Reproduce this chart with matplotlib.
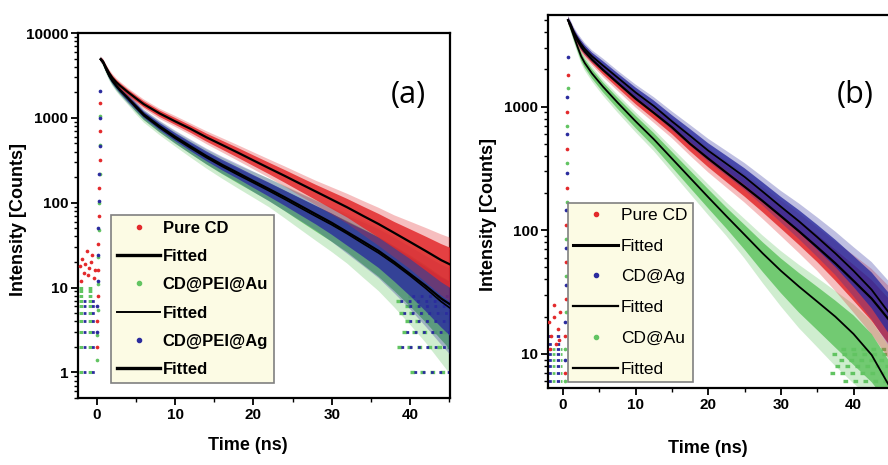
import numpy as np
import matplotlib
matplotlib.use('Agg')
import matplotlib.pyplot as plt
from matplotlib.lines import Line2D
from matplotlib.ticker import FixedLocator, LogLocator, MultipleLocator, NullFormatter

plt.rcParams['font.family'] = ['Liberation Sans', 'DejaVu Sans']

RED = '#e32a2c'
GREEN = '#62c462'
BLUE = '#2b2c9e'

# ---- panel (a): decay values ----
t_a = [0.5, 0.8, 1.2, 1.6, 2, 2.5, 3, 4, 5, 6, 8, 10, 12, 14, 16, 18, 20, 22, 24, 26,
       28, 30, 32, 34, 36, 38, 40, 42, 44, 45.5]
pure_a = [4900, 4600, 3900, 3350, 2950, 2620, 2380, 2000, 1700, 1450, 1130, 910, 740, 590, 480,
          390, 315, 255, 207, 167, 135, 109, 88, 70, 56, 44, 34.5, 27, 21, 18]
au_a = [4900, 4500, 3700, 3100, 2700, 2350, 2080, 1680, 1320, 1060, 770, 575, 440, 340, 268,
        214, 172, 138, 110, 87, 69, 55, 43, 33, 25.5, 19, 13.8, 9.8, 6.8, 5.4]
ag_a = [4900, 4550, 3750, 3150, 2750, 2400, 2120, 1700, 1370, 1100, 800, 600, 460, 355, 280,
        225, 180, 145, 116, 92, 73, 58, 45, 35, 27, 20, 14.5, 10.5, 7.4, 6.0]
# scatter of the counts around each curve (decades above / below)
pure_a_up = [0.02, 0.022, 0.025, 0.027, 0.03, 0.03, 0.03, 0.03, 0.033, 0.035, 0.035, 0.04, 0.04,
             0.045, 0.05, 0.055, 0.06, 0.065, 0.07, 0.075, 0.08, 0.09, 0.1, 0.11, 0.12, 0.13,
             0.15, 0.17, 0.19, 0.2]
pure_a_dn = [0.02, 0.022, 0.025, 0.027, 0.03, 0.03, 0.03, 0.035, 0.035, 0.035, 0.04, 0.04, 0.045,
             0.05, 0.055, 0.06, 0.065, 0.07, 0.08, 0.09, 0.1, 0.11, 0.12, 0.14, 0.16, 0.18,
             0.2, 0.23, 0.26, 0.28]
au_a_up = [0.02, 0.022, 0.025, 0.028, 0.03, 0.032, 0.035, 0.04, 0.04, 0.04, 0.045, 0.05, 0.055,
           0.06, 0.065, 0.07, 0.08, 0.09, 0.1, 0.11, 0.12, 0.13, 0.15, 0.17, 0.19, 0.21, 0.24,
           0.27, 0.3, 0.32]
au_a_dn = [0.02, 0.025, 0.03, 0.032, 0.035, 0.038, 0.04, 0.045, 0.048, 0.05, 0.055, 0.06, 0.07,
           0.08, 0.09, 0.1, 0.11, 0.12, 0.14, 0.16, 0.18, 0.2, 0.22, 0.25, 0.28, 0.32, 0.36,
           0.4, 0.45, 0.5]
ag_a_up = [0.02, 0.022, 0.025, 0.027, 0.03, 0.03, 0.03, 0.035, 0.035, 0.035, 0.04, 0.045, 0.05,
           0.055, 0.06, 0.065, 0.07, 0.075, 0.08, 0.09, 0.1, 0.11, 0.12, 0.14, 0.16, 0.18, 0.2,
           0.22, 0.25, 0.27]
ag_a_dn = [0.02, 0.022, 0.025, 0.03, 0.032, 0.035, 0.035, 0.04, 0.04, 0.04, 0.045, 0.05, 0.055,
           0.06, 0.065, 0.07, 0.08, 0.09, 0.1, 0.11, 0.12, 0.14, 0.16, 0.18, 0.2, 0.23, 0.26,
           0.3, 0.34, 0.38]
# rising edge and low-count rows
rise_t_a = [0.0, 0.05, 0.1, 0.15, 0.2, 0.25, 0.3, 0.35, 0.4, 0.45]
rise_pure_a = [2, 4, 8, 16, 33, 70, 150, 320, 700, 1500]
rise_au_a = [1.4, 2.8, 5.5, 11, 23, 48, 100, 220, 480, 1050]
rise_ag_a = [3, 6, 12, 24, 50, 105, 220, 470, 1000, 2100]
pre_rows_a = [1, 2, 3, 4, 5, 6, 7, 8, 9, 10]
pre_pure_t_a = [-2.2, -1.9, -1.6, -1.3, -1.0, -0.7, -0.4, -2.0, -1.5, -1.1, -0.6, -0.2]
pre_pure_v_a = [18, 22, 15, 27, 17, 20, 13, 12, 19, 14, 24, 16]
tail_rows_a = [1, 2, 3, 4, 5, 6, 7, 8]
tail_start_a = [40, 38.3, 39, 39.3, 38.6, 39.3, 38.2, 39.8]

# ---- panel (b) ----
t_b = [0.7, 1, 1.5, 2, 2.5, 3, 4, 5.5, 7.5, 10, 12.5, 15, 17.5, 20, 22.5, 25, 27.5, 30, 32.5,
       35, 37.5, 40, 42.5, 45, 46.5]
pure_b = [5000, 4600, 3900, 3420, 3050, 2780, 2400, 1980, 1560, 1160, 890, 680, 500, 380, 292,
          225, 172, 130, 98, 73, 54, 39, 28, 18.5, 14]
ag_b = [5000, 4700, 4000, 3550, 3200, 2930, 2550, 2150, 1720, 1300, 1010, 760, 580, 440, 345,
        270, 205, 155, 118, 88, 65, 47, 33, 21, 15]
au_b = [5000, 4500, 3700, 3050, 2550, 2250, 1850, 1450, 1080, 760, 545, 380, 265, 185, 130, 92,
        65, 47, 35, 26.5, 20, 14.5, 9.8, 5.4, 3.5]
pure_b_up = [0.02, 0.02, 0.025, 0.027, 0.03, 0.03, 0.03, 0.03, 0.035, 0.04, 0.04, 0.045, 0.05,
             0.055, 0.06, 0.065, 0.07, 0.08, 0.09, 0.1, 0.11, 0.13, 0.15, 0.17, 0.18]
pure_b_dn = [0.02, 0.02, 0.025, 0.027, 0.03, 0.03, 0.03, 0.035, 0.04, 0.045, 0.05, 0.055, 0.06,
             0.07, 0.075, 0.08, 0.09, 0.1, 0.11, 0.12, 0.14, 0.16, 0.18, 0.2, 0.22]
ag_b_up = [0.02, 0.02, 0.025, 0.027, 0.03, 0.03, 0.03, 0.035, 0.035, 0.04, 0.045, 0.05, 0.055,
           0.06, 0.065, 0.07, 0.075, 0.08, 0.09, 0.1, 0.11, 0.12, 0.14, 0.16, 0.17]
ag_b_dn = [0.02, 0.02, 0.025, 0.027, 0.03, 0.03, 0.03, 0.03, 0.035, 0.04, 0.04, 0.045, 0.05,
           0.055, 0.06, 0.065, 0.07, 0.08, 0.09, 0.1, 0.11, 0.13, 0.15, 0.17, 0.19]
au_b_up = [0.02, 0.02, 0.025, 0.027, 0.03, 0.032, 0.035, 0.035, 0.04, 0.045, 0.05, 0.055, 0.06,
           0.065, 0.07, 0.08, 0.09, 0.1, 0.11, 0.12, 0.13, 0.15, 0.17, 0.2, 0.22]
au_b_dn = [0.02, 0.025, 0.03, 0.032, 0.035, 0.038, 0.04, 0.045, 0.05, 0.055, 0.06, 0.07, 0.08,
           0.09, 0.1, 0.12, 0.15, 0.18, 0.21, 0.23, 0.25, 0.25, 0.22, 0.15, 0.1]
rise_t_b = [0.25, 0.3, 0.35, 0.4, 0.45, 0.5, 0.55, 0.6, 0.65]
rise_pure_b = [7, 14, 28, 55, 110, 220, 450, 900, 1800]
rise_ag_b = [9, 18, 36, 72, 145, 290, 600, 1200, 2500]
rise_au_b = [6, 11, 22, 43, 85, 170, 350, 700, 1400]
pre_rows_b = [6, 7, 8, 9, 10, 11, 12, 14]
pre_pure_t_b = [-1.9, -1.6, -1.3, -1.0, -0.7, -0.4, -1.8, -1.2, -0.6]
pre_pure_v_b = [18, 14, 20, 12, 16, 22, 11, 25, 13]
tail_rows_b = [6, 7, 8, 9, 10, 11]
tail_start_b = [38.5, 36.8, 37.5, 38, 37, 38.3]


def band(ax, t, fit, up, dn, color, z, alpha=0.85):
    fit = np.array(fit)
    up = np.array(up)
    dn = np.array(dn)
    # soft outer fringe of sparse points, then the dense core
    ax.fill_between(t, fit / 10 ** (1.6 * dn), fit * 10 ** (1.6 * up),
                    facecolor=color, lw=0, alpha=0.3, zorder=z)
    ax.fill_between(t, fit / 10 ** dn, fit * 10 ** up,
                    facecolor=color, lw=0, alpha=alpha, zorder=z)


def style(ax, xlim, ylim, yticks):
    ax.set_yscale('log')
    ax.set_xlim(*xlim)
    ax.set_ylim(*ylim)
    ax.yaxis.set_major_locator(FixedLocator(yticks))
    ax.set_yticklabels([str(v) for v in yticks])
    ax.yaxis.set_minor_locator(LogLocator(subs=np.arange(2, 10)))
    ax.yaxis.set_minor_formatter(NullFormatter())
    ax.xaxis.set_major_locator(MultipleLocator(10))
    ax.xaxis.set_minor_locator(MultipleLocator(5))
    ax.tick_params(which='major', direction='out', length=5, width=1.3, pad=2,
                   labelsize=11)
    ax.tick_params(which='minor', direction='out', length=3, width=1.0)
    for lab in ax.get_xticklabels() + ax.get_yticklabels():
        lab.set_fontweight('bold')
    for s in ax.spines.values():
        s.set_linewidth(1.6)


def dot(color):
    return Line2D([], [], ls='none', marker='o', ms=3, color=color)


fig = plt.figure(figsize=(8.88, 4.65), dpi=100)
ax_a = fig.add_axes([78 / 888, 67 / 465, 372 / 888, 365 / 465])
ax_b = fig.add_axes([548 / 888, 77 / 465, 352 / 888, 373 / 465])

# ---------- (a) ----------
ax = ax_a
band(ax, t_a, au_a, au_a_up, au_a_dn, GREEN, 2)
band(ax, t_a, ag_a, ag_a_up, ag_a_dn, BLUE, 3, alpha=0.8)
band(ax, t_a, pure_a, pure_a_up, pure_a_dn, RED, 3)
ax.hlines(pre_rows_a, -2.3, -0.05, colors=GREEN, linestyles=(0, (1.2, 1.8)), lw=2.2, zorder=2)
ax.hlines(pre_rows_a[:7], -2.3, -0.05, colors=BLUE, linestyles=(1.5, (1.0, 2.0)), lw=2.0, zorder=2)
ax.scatter(pre_pure_t_a, pre_pure_v_a, s=7, color=RED, lw=0, zorder=3)
ax.hlines(tail_rows_a, tail_start_a, 46, colors=GREEN, linestyles=(0, (1.4, 1.6)), lw=2.4, zorder=2)
ax.hlines(tail_rows_a, tail_start_a, 46, colors=BLUE, linestyles=(1.6, (1.0, 2.0)), lw=2.0, zorder=2)
ax.scatter(rise_t_a, rise_pure_a, s=7, color=RED, lw=0, zorder=4)
ax.scatter(rise_t_a, rise_au_a, s=7, color=GREEN, lw=0, zorder=4)
ax.scatter(rise_t_a, rise_ag_a, s=7, color=BLUE, lw=0, zorder=4)
ax.plot(t_a, pure_a, color='k', lw=1.6, zorder=6)
ax.plot(t_a, au_a, color='k', lw=1.2, zorder=6)
ax.plot(t_a, ag_a, color='k', lw=1.6, zorder=6)
style(ax, (-2.4, 45.1), (0.5, 10000), [1, 10, 100, 1000, 10000])
ax.set_xlabel('Time (ns)', fontsize=13, fontweight='bold')
ax.set_ylabel('Intensity [Counts]', fontsize=13, fontweight='bold')
ax.xaxis.set_label_coords(0.457, -0.107)
ax.yaxis.set_label_coords(-0.137, 0.488)
ax.text(0.887, 0.83, '(a)', transform=ax.transAxes, fontsize=22,
        family='Open Sans', ha='center', va='center')

handles_a = [dot(RED), Line2D([], [], color='k', lw=2.4),
             dot(GREEN), Line2D([], [], color='k', lw=1.4),
             dot(BLUE), Line2D([], [], color='k', lw=2.4)]
labels_a = ['Pure CD', 'Fitted', 'CD@PEI@Au', 'Fitted', 'CD@PEI@Ag', 'Fitted']
leg = ax.legend(handles_a, labels_a, loc='lower left', bbox_to_anchor=(0.089, 0.041),
                borderaxespad=0, fancybox=False, framealpha=1, facecolor='#fcfbe4',
                edgecolor='#808080', handlelength=2.6, handletextpad=0.15,
                labelspacing=0.8, borderpad=0.35, prop={'size': 12, 'weight': 'bold'})
leg.get_frame().set_linewidth(1.2)
leg.set_zorder(10)

# ---------- (b) ----------
ax = ax_b
band(ax, t_b, au_b, au_b_up, au_b_dn, GREEN, 2)
band(ax, t_b, pure_b, pure_b_up, pure_b_dn, RED, 3)
band(ax, t_b, ag_b, ag_b_up, ag_b_dn, BLUE, 4, alpha=0.8)
ax.hlines(pre_rows_b, -2.0, -0.1, colors=BLUE, linestyles=(0, (1.2, 1.8)), lw=2.0, zorder=2)
ax.hlines(pre_rows_b[:6], -2.0, -0.1, colors=GREEN, linestyles=(1.5, (1.0, 2.0)), lw=2.0, zorder=2)
ax.scatter(pre_pure_t_b, pre_pure_v_b, s=7, color=RED, lw=0, zorder=3)
ax.hlines(tail_rows_b, tail_start_b, 47, colors=GREEN, linestyles=(0, (1.4, 1.6)), lw=2.4, zorder=2)
ax.scatter(rise_t_b, rise_pure_b, s=7, color=RED, lw=0, zorder=5)
ax.scatter(rise_t_b, rise_ag_b, s=7, color=BLUE, lw=0, zorder=5)
ax.scatter(rise_t_b, rise_au_b, s=7, color=GREEN, lw=0, zorder=5)
ax.plot(t_b, pure_b, color='k', lw=1.6, zorder=6)
ax.plot(t_b, ag_b, color='k', lw=1.3, zorder=6)
ax.plot(t_b, au_b, color='k', lw=1.3, zorder=6)
style(ax, (-2.06, 46.4), (5.3, 5500), [10, 100, 1000])
ax.spines['right'].set_visible(False)
ax.set_xlabel('Time (ns)', fontsize=13, fontweight='bold')
ax.set_ylabel('Intensity [Counts]', fontsize=13, fontweight='bold')
ax.xaxis.set_label_coords(0.4545, -0.139)
ax.yaxis.set_label_coords(-0.145, 0.464)
ax.text(0.872, 0.785, '(b)', transform=ax.transAxes, fontsize=22,
        family='Open Sans', ha='center', va='center')

handles_b = [dot(RED), Line2D([], [], color='k', lw=2.2),
             dot(BLUE), Line2D([], [], color='k', lw=1.6),
             dot(GREEN), Line2D([], [], color='k', lw=1.6)]
labels_b = ['Pure CD', 'Fitted', 'CD@Ag', 'Fitted', 'CD@Au', 'Fitted']
leg = ax.legend(handles_b, labels_b, loc='lower left', bbox_to_anchor=(0.057, 0.016),
                borderaxespad=0, fancybox=False, framealpha=1, facecolor='#fcfbe4',
                edgecolor='#808080', handlelength=2.6, handletextpad=0.15,
                labelspacing=0.9, borderpad=0.3, prop={'size': 12.5})
leg.get_frame().set_linewidth(1.2)
leg.set_zorder(10)

fig.savefig('out.png', dpi=100)
